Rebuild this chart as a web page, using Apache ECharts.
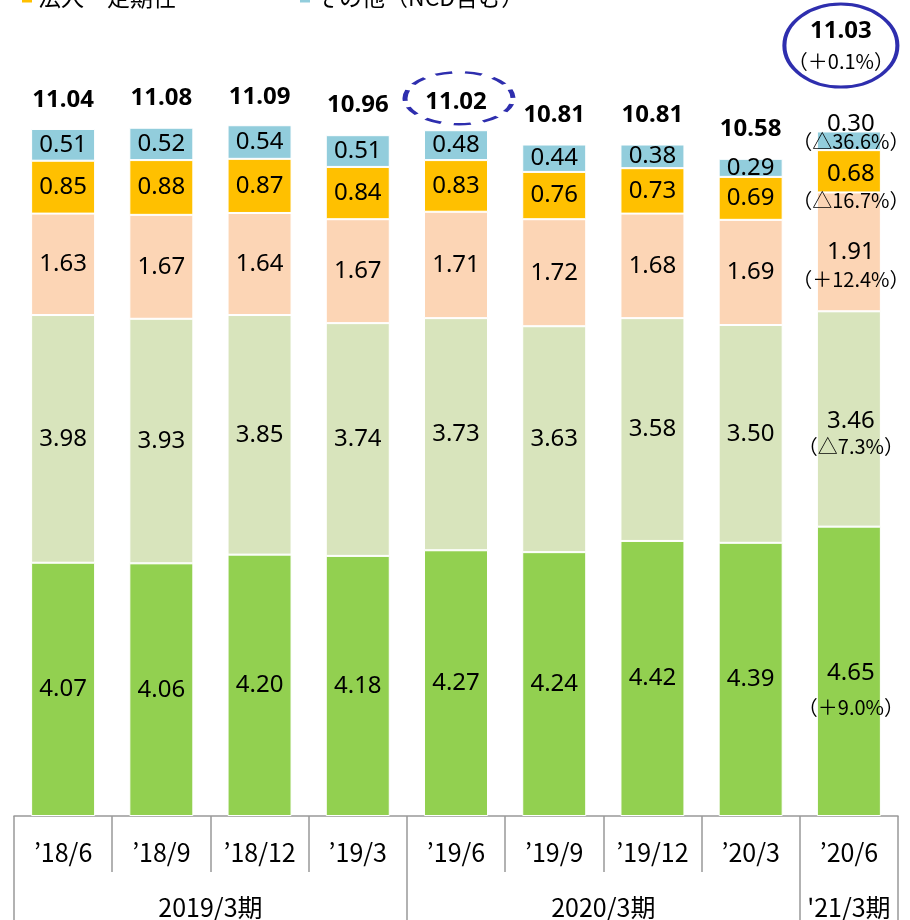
<!DOCTYPE html>
<html>
<head>
<meta charset="utf-8">
<script src="https://cdn.jsdelivr.net/npm/echarts@6/dist/echarts.min.js"></script>
<style>
  html, body { margin: 0; padding: 0; background: #fff; }
  #chart { width: 910px; height: 920px; }
</style>
</head>
<body>
<div id="chart"></div>
<script>
// quarters and fiscal periods
const categories = ['’18/6', '’18/9', '’18/12', '’19/3', '’19/6', '’19/9', '’19/12', '’20/3', '’20/6'];
const periods = ['2019/3期', '2020/3期', '\'21/3期'];
const periodBounds = [0, 4, 8, 9];

// stacked segments, bottom to top (兆円)
const seriesNames = ['個人　流動性', '個人　定期性', '法人　流動性', '法人　定期性', 'その他（NCD含む）'];
const kojinRyudo = [4.07, 4.06, 4.20, 4.18, 4.27, 4.24, 4.42, 4.39, 4.65];
const kojinTeiki = [3.98, 3.93, 3.85, 3.74, 3.73, 3.63, 3.58, 3.50, 3.46];
const hojinRyudo = [1.63, 1.67, 1.64, 1.67, 1.71, 1.72, 1.68, 1.69, 1.91];
const hojinTeiki = [0.85, 0.88, 0.87, 0.84, 0.83, 0.76, 0.73, 0.69, 0.68];
const sonota = [0.51, 0.52, 0.54, 0.51, 0.48, 0.44, 0.38, 0.29, 0.30];
const totals = [11.04, 11.08, 11.09, 10.96, 11.02, 10.81, 10.81, 10.58, 11.03];

// year-on-year change shown for the latest quarter
const latestChange = ['（＋9.0%）', '（△7.3%）', '（＋12.4%）', '（△16.7%）', '（△36.6%）'];
const totalChange = '（＋0.1%）';

const colors = ['#92D050', '#D8E4BC', '#FCD5B5', '#FFC000', '#92CDDC'];
const lineGap = [35, 25, 27, 26, 18];
const lastShift = [19, 15, 14, 16, -8];

const chart = echarts.init(document.getElementById('chart'));

const numFont = { fontFamily: 'Noto Sans', fontSize: 24, color: '#000' };
const pctFont = { fontFamily: 'Noto Sans CJK JP', fontWeight: 'normal', fontSize: 20, color: '#000' };
const totalFont = { fontFamily: 'Noto Sans', fontWeight: 'bold', fontSize: 24, color: '#000' };

function stackSeries(name, values, idx) {
    const last = values.length - 1;
    return {
        name: name,
        type: 'bar',
        stack: 'total',
        barWidth: 64,
        itemStyle: { color: colors[idx], borderColor: '#fff', borderWidth: 1 },
        label: {
            show: true,
            position: 'inside',
            ...numFont,
            formatter: p => Number(p.value).toFixed(2)
        },
        data: values.map((v, i) => {
            if (i !== last) return v;
            return {
                value: v,
                label: {
                    formatter: '{a|' + v.toFixed(2) + '}\n{b|' + latestChange[idx] + '}',
                    offset: [2, lastShift[idx]],
                    rich: {
                        a: { ...numFont, lineHeight: lineGap[idx] },
                        b: { ...pctFont, lineHeight: lineGap[idx] }
                    }
                }
            };
        })
    };
}

const ellipse = 'path://M0,50 A50,50 0 1,1 100,50 A50,50 0 1,1 0,50 Z';

const legendBase = {
    top: -14,
    padding: 0,
    icon: 'rect',
    itemWidth: 12,
    itemHeight: 12,
    textStyle: { fontFamily: 'Noto Sans CJK JP', fontSize: 23, color: '#000' }
};

chart.setOption({
    animation: false,
    backgroundColor: '#fff',
    legend: [
        { ...legendBase, left: 20, data: [seriesNames[3]] },
        { ...legendBase, left: 298, data: [seriesNames[4]] }
    ],
    grid: { left: 14, right: 12, top: 7, bottom: 104 },
    xAxis: [
        {
            type: 'category',
            data: categories,
            axisLine: { lineStyle: { color: '#999', width: 1.5 } },
            axisTick: { show: true, length: 56, lineStyle: { color: '#999', width: 1.5 } },
            axisLabel: { margin: 24, fontFamily: 'Noto Sans CJK JP', fontSize: 25, color: '#000' }
        },
        {
            type: 'value',
            position: 'bottom',
            offset: 56,
            min: 0,
            max: categories.length,
            splitLine: { show: false },
            axisLine: { show: false },
            axisTick: {
                show: true,
                length: 50,
                customValues: periodBounds,
                lineStyle: { color: '#999', width: 1.5 }
            },
            axisLabel: {
                margin: 23,
                fontFamily: 'Noto Sans CJK JP',
                fontSize: 25,
                color: '#000',
                customValues: periods.map((_, i) => (periodBounds[i] + periodBounds[i + 1]) / 2),
                formatter: v => {
                    const i = periods.findIndex((_, k) => (periodBounds[k] + periodBounds[k + 1]) / 2 === v);
                    return i >= 0 ? periods[i] : '';
                }
            }
        }
    ],
    yAxis: { type: 'value', min: 0, max: 13, show: false },
    series: [
        stackSeries(seriesNames[0], kojinRyudo, 0),
        stackSeries(seriesNames[1], kojinTeiki, 1),
        stackSeries(seriesNames[2], hojinRyudo, 2),
        stackSeries(seriesNames[3], hojinTeiki, 3),
        stackSeries(seriesNames[4], sonota, 4),
        {
            name: '合計',
            type: 'scatter',
            symbolSize: 1,
            itemStyle: { color: 'transparent', opacity: 1 },
            label: {
                show: true,
                position: 'top',
                distance: 16,
                ...totalFont,
                formatter: p => p.value[1].toFixed(2)
            },
            data: totals.map((v, i) => {
                if (i !== totals.length - 1) return [i, v];
                return {
                    value: [i, v],
                    label: {
                        distance: 53,
                        offset: [-8, 0],
                        formatter: '{a|' + v.toFixed(2) + '}\n{b|' + totalChange + '}',
                        rich: {
                            a: { ...totalFont, lineHeight: 30 },
                            b: { ...pctFont, lineHeight: 30 }
                        }
                    }
                };
            })
        },
        {
            name: '強調',
            type: 'scatter',
            symbol: ellipse,
            silent: true,
            itemStyle: { color: 'transparent', borderColor: '#2E2EAE', borderWidth: 3.5, opacity: 1 },
            data: [
                {
                    value: [4, totals[4]],
                    symbolSize: [108, 52],
                    symbolOffset: [3, -32],
                    itemStyle: { borderType: [12, 9] }
                },
                {
                    value: [8, totals[8]],
                    symbolSize: [113, 83],
                    symbolOffset: [-8, -84]
                }
            ]
        }
    ]
});
</script>
</body>
</html>
